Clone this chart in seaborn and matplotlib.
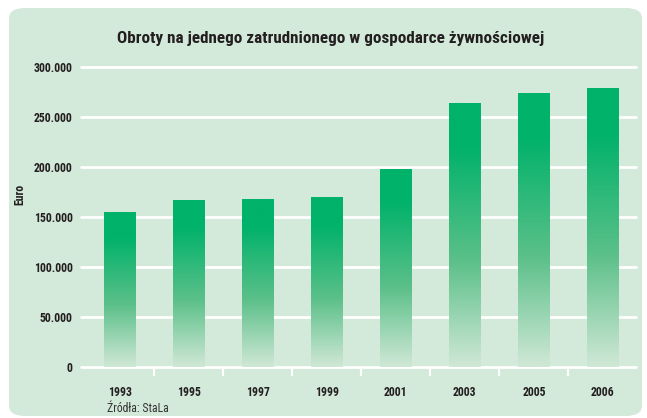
import numpy as np
import pandas as pd
import matplotlib
matplotlib.use("Agg")
import matplotlib.pyplot as plt
import seaborn as sns
from matplotlib.patches import FancyBboxPatch
from matplotlib.colors import LinearSegmentedColormap
from matplotlib.ticker import FixedLocator

# data
years = ["1993", "1995", "1997", "1999", "2001", "2003", "2005", "2006"]
turnover = [155000, 167000, 168000, 170000, 198000, 264000, 274000, 279000]
y_ticks = [0, 50000, 100000, 150000, 200000, 250000, 300000]
y_tick_labels = ["0", "50.000", "100.000", "150.000", "200.000", "250.000", "300.000"]

PANEL = "#d3e9d9"
GREEN = "#00b26a"
TEXT = "#231f20"

sns.set_theme(style="white")
plt.rcParams["font.family"] = ["Roboto Condensed", "PT Sans Narrow", "DejaVu Sans"]

df = pd.DataFrame({"year": years, "turnover": turnover})

fig = plt.figure(figsize=(6.47, 4.18), dpi=100)
fig.patch.set_facecolor("white")

# rounded green panel behind everything
panel = FancyBboxPatch((9 / 647, 2 / 418), 633 / 647, 408 / 418,
                       boxstyle="round,pad=0,rounding_size=0.025",
                       transform=fig.transFigure, facecolor=PANEL,
                       edgecolor="none", zorder=-5)
fig.patches.append(panel)

ax = fig.add_axes([81 / 647, 1 - 369 / 418, 555 / 647, 304 / 418])
ax.set_facecolor("none")

sns.barplot(data=df, x="year", y="turnover", color=GREEN, width=0.45,
            ax=ax, zorder=3)

# vertical gradient inside each bar: solid on top, fading to the panel colour
cmap = LinearSegmentedColormap.from_list(
    "fade", [(0.0, GREEN), (0.16, GREEN), (0.6, "#5cc08a"), (1.0, "#d0e8d6")])
grad = np.linspace(0, 1, 256).reshape(-1, 1)
for bar in list(ax.patches):
    x0, w, h = bar.get_x(), bar.get_width(), bar.get_height()
    ax.imshow(grad, cmap=cmap, aspect="auto", origin="upper",
              extent=(x0, x0 + w, 0, h), zorder=3)
    bar.set_visible(False)

ax.set_xlim(-0.565, 7.48)
ax.set_ylim(-2000, 302000)

for v in y_ticks:
    ax.axhline(v, color="white", lw=2.0, zorder=1, clip_on=False)

ax.set_yticks(y_ticks)
ax.set_yticklabels(y_tick_labels)
ax.tick_params(axis="y", length=0, pad=6, labelsize=8.5, labelcolor=TEXT)
for lbl in ax.get_yticklabels():
    lbl.set_fontweight("bold")

ax.tick_params(axis="x", which="major", length=0, pad=12, labelsize=8.5,
               labelcolor=TEXT)
for lbl in ax.get_xticklabels():
    lbl.set_fontweight("bold")
ax.xaxis.set_minor_locator(FixedLocator(np.arange(len(years) - 1) + 0.5))
ax.tick_params(axis="x", which="minor", bottom=True, length=5, width=1.6,
               color="white", direction="out")

for s in ax.spines.values():
    s.set_visible(False)

ax.set_xlabel("")
ax.set_ylabel("")

fig.text(331 / 647, 1 - 38 / 418,
         "Obroty na jednego zatrudnionego w gospodarce żywnościowej",
         ha="center", va="center", fontsize=12.3, fontweight="bold", color=TEXT)
fig.text(20 / 647, 1 - 194 / 418, "Euro", rotation=90, ha="center",
         va="center", fontsize=8.5, fontweight="bold", color=TEXT)
fig.text(107 / 647, 1 - 408 / 418, "Źródła: StaLa", ha="left", va="center",
         fontsize=8.5, color="#333333")

fig.savefig("out.png", dpi=100, facecolor=fig.get_facecolor())
